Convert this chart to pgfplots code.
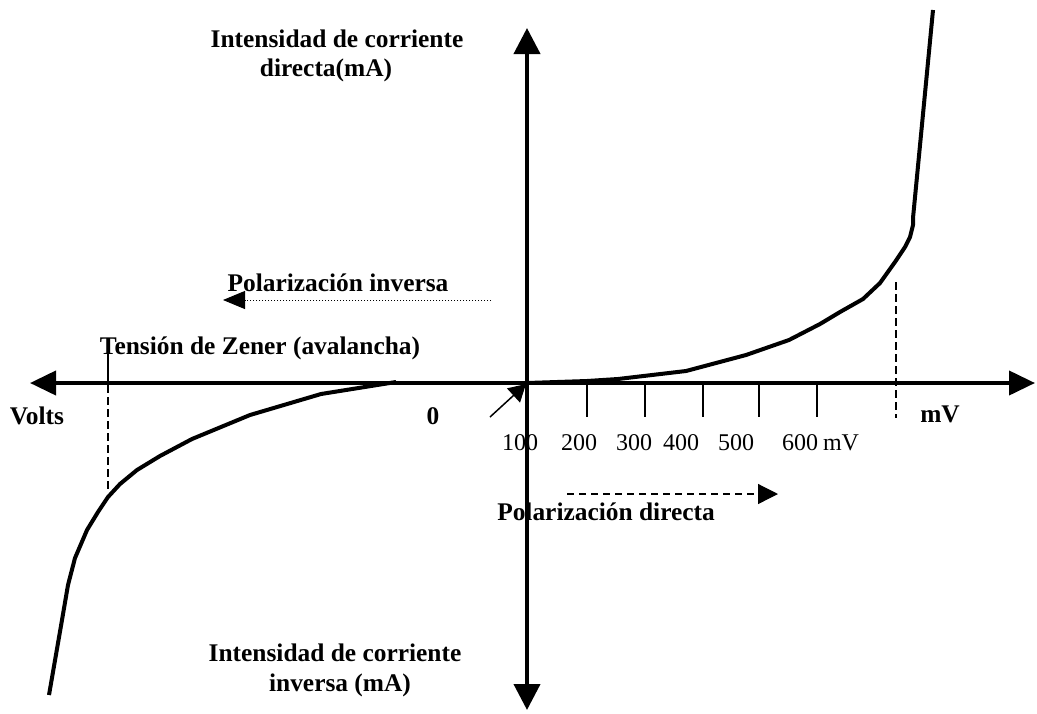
\documentclass[border=0pt]{standalone}
\usepackage{pgfplots}
\pgfplotsset{compat=1.18}
\usepackage{fontspec}
\setmainfont{Liberation Serif}
\usetikzlibrary{arrows.meta}
\begin{document}
\begin{tikzpicture}
\begin{axis}[
  scale only axis, width=518.5pt, height=356.5pt,
  xmin=0, xmax=1037, ymin=0, ymax=713, y dir=reverse,
  hide axis, clip=false,
  every node/.append style={inner sep=0pt},
]
% bounding frame (invisible)
\addplot[draw=none] coordinates {(0,0) (1037,713)};
% text
\begin{scope}[font=\fontsize{12.7}{15}\selectfont\bfseries]
\node at (axis cs:337,39) {Intensidad de corriente};
\node at (axis cs:326,70) {directa(mA)};
\node at (axis cs:335,653) {Intensidad de corriente};
\node at (axis cs:340,685) {inversa (mA)};
\node at (axis cs:260,348) {Tensión de Zener (avalancha)};
\node at (axis cs:37,416) {Volts};
\node at (axis cs:433,416) {0};
\node at (axis cs:940,414) {mV};
\node at (axis cs:338,283) {Polarización inversa};
\node at (axis cs:606,512) {Polarización directa};
\end{scope}
\begin{scope}[font=\fontsize{12}{14}\selectfont]
\node at (axis cs:520,443) {100};
\node at (axis cs:579,443) {200};
\node at (axis cs:634,443) {300};
\node at (axis cs:681,443) {400};
\node at (axis cs:736,443) {500};
\node at (axis cs:800,443) {600};
\node at (axis cs:841,443) {mV};
\end{scope}
% axes
\addplot[line width=2pt, {Triangle[length=13pt,width=12pt]}-{Triangle[length=13pt,width=12pt]}] coordinates {(30,383) (1035,383)};
\addplot[line width=2pt, {Triangle[length=13pt,width=13pt]}-{Triangle[length=13pt,width=13pt]}] coordinates {(527,28) (527,710)};
% ticks
\addplot[line width=1pt] coordinates {(587,381) (587,417)};
\addplot[line width=1pt] coordinates {(644.5,381) (644.5,417)};
\addplot[line width=1pt] coordinates {(703,381) (703,417)};
\addplot[line width=1pt] coordinates {(759,381) (759,417)};
\addplot[line width=1pt] coordinates {(817,381) (817,417)};
% dashed guide lines
\addplot[line width=0.6pt] coordinates {(108,338) (108,383)};
\addplot[line width=0.6pt, dash pattern=on 4pt off 2pt] coordinates {(108,385) (108,489)};
\addplot[line width=0.6pt, dash pattern=on 4pt off 2pt] coordinates {(896,282) (896,418)};
% polarization arrows
\addplot[line width=0.5pt, dash pattern=on 0.6pt off 0.9pt, -{Triangle[length=11pt,width=9pt]}] coordinates {(491,300) (223,300)};
\addplot[line width=0.6pt, dash pattern=on 3.5pt off 2.5pt, -{Triangle[length=10pt,width=10pt]}] coordinates {(567,494) (778,494)};
% small arrow at origin
\addplot[line width=0.75pt, -{Triangle[length=8.5pt,width=9.5pt]}] coordinates {(490,417) (526,384)};
% forward characteristic
\addplot[line width=2pt, line join=round] coordinates {
(527,383) (587,381) (618,379) (686,371) (746,355) (789,340) (820,324) (840,312)
(863,299) (880,283) (895,262) (905,247) (910,237) (913,225) (913,218) (933,10)};
% reverse characteristic
\addplot[line width=2pt, line join=round] coordinates {
(396,382) (321,394) (250,415) (192,439) (160,456) (137,470) (120,484) (108,497)
(98,512) (87,530) (75,558) (68,585) (62,620) (49,695)};
\end{axis}
\end{tikzpicture}
\end{document}
